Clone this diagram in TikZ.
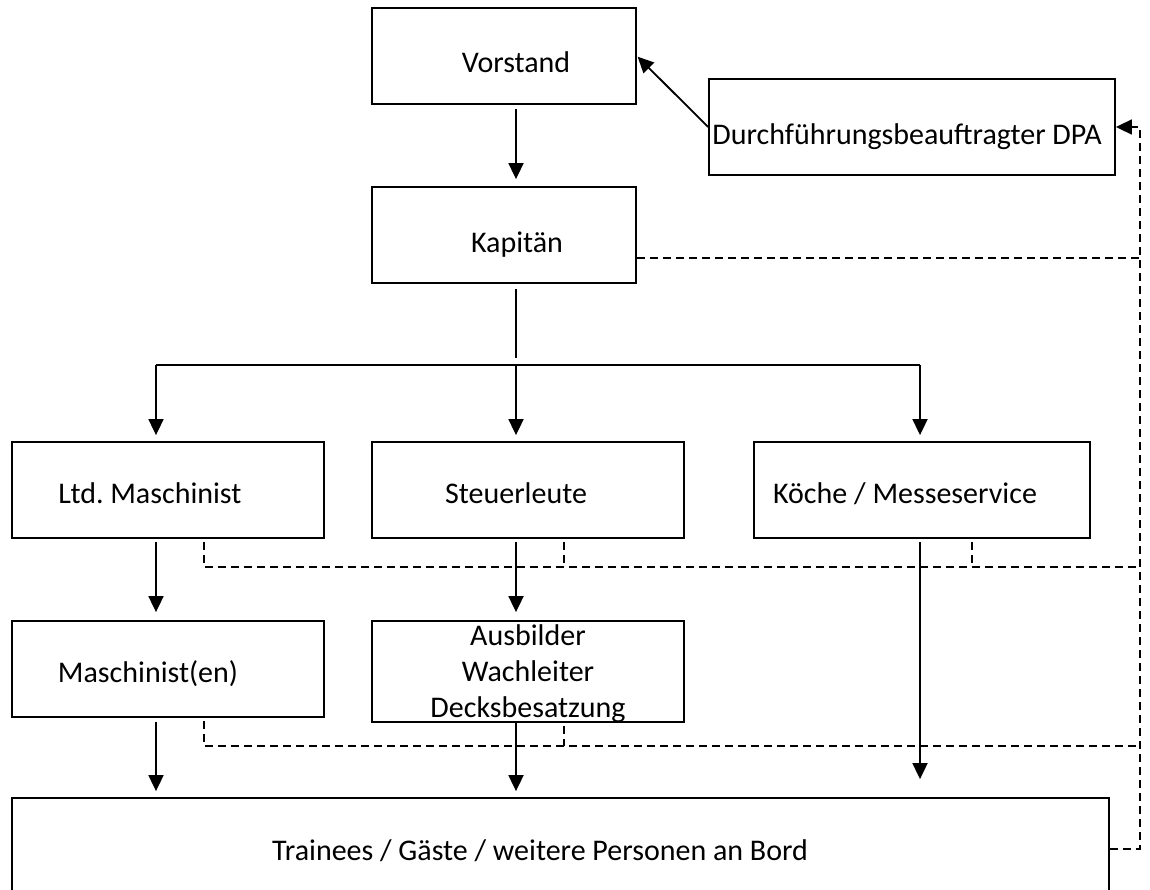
\documentclass[tikz,border=0pt]{standalone}
\usepackage{fontspec}
\setmainfont{Carlito}
\usepackage{tikz}
\usetikzlibrary{positioning}
\usetikzlibrary{arrows.meta}

\begin{document}
\begin{tikzpicture}[x=1pt, y=-1pt,
		orgbox/.style={rectangle, draw=black, line width=1.8pt, minimum width=312pt, minimum height=96pt, inner sep=0pt, text height=26pt, text depth=0pt, font=\fontsize{30}{36}\selectfont},
		tx/.style={execute at begin node={\hspace*{#1}}},
		arr/.style={-{Triangle[length=16pt, width=15pt]}, line width=1.8pt},
		link/.style={dash pattern=on 8pt off 5pt, line width=1.7pt}]

		\useasboundingbox (0,0) rectangle (1150,890);
		\clip (0,0) rectangle (1150,890);

		\node[orgbox, minimum width=264pt, text height=34pt, tx=24pt](vorstand) at (504,56){Vorstand};
		\node[orgbox, minimum width=264pt, text height=35pt, tx=26pt](kapitan) at (504,235){Kapitän};
		\node[orgbox, minimum width=406pt, text height=35pt, tx=-10pt](dpa) at (912,127){Durchführungsbeauftragter DPA};

		\node[orgbox, tx=-36pt](ltd) at (168,490){Ltd.\ Maschinist};
		\node[orgbox, tx=-24pt](steuer) at (528,490){Steuerleute};
		\node[orgbox, minimum width=336pt, tx=-34pt](koeche) at (922,490){Köche / Messeservice};

		\node[orgbox, tx=-40pt](masch) at (168,669){Maschinist(en)};
		\node[orgbox, minimum height=101pt, text height={}, align=center](ausb) at (528,671.5){Ausbilder\\Wachleiter\\Decksbesatzung};

		\node[orgbox, minimum width=1097pt, minimum height=102pt, text height=23pt, tx=-41pt](trainees) at (560.5,849){Trainees / Gäste / weitere Personen an Bord};

		\coordinate (fork) at (516,358);
		\coordinate (forkL) at (156,365);
		\coordinate (forkM) at (516,365);
		\coordinate (forkR) at (920,365);
		\coordinate (rail) at (1140,0);
		\coordinate (rowA) at (1140,567);
		\coordinate (rowB) at (1140,746);

		\draw [arr, shorten <=4pt, shorten >=7pt] ([xshift=12pt]vorstand.south) -- ([xshift=12pt]kapitan.north);
		\draw [arr, shorten >=1pt] (dpa.west) -- (vorstand.east);

		\draw [line width=1.8pt, shorten <=5pt] ([xshift=12pt]kapitan.south) -- (fork);
		\draw [line width=1.8pt] (forkL) -- (forkR);
		\draw [arr, shorten >=6pt] (forkL) -- (forkL |- ltd.north);
		\draw [arr, shorten >=6pt] (forkM) -- (forkM |- steuer.north);
		\draw [arr, shorten >=6pt] (forkR) -- (forkR |- koeche.north);

		\draw [arr, shorten <=3pt, shorten >=8pt] ([xshift=-12pt]ltd.south) -- ([xshift=-12pt]masch.north);
		\draw [arr, shorten <=3pt, shorten >=8pt] ([xshift=-12pt]steuer.south) -- ([xshift=-12pt]ausb.north);
		\draw [arr, shorten <=3pt, shorten >=18pt] ([xshift=-2pt]koeche.south) -- ([xshift=-2pt]koeche.south |- trainees.north);
		\draw [arr, shorten <=4pt, shorten >=6pt] ([xshift=-12pt]masch.south) -- ([xshift=-12pt]masch.south |- trainees.north);
		\draw [arr, shorten >=6pt] ([xshift=-12pt]ausb.south) -- ([xshift=-12pt]ausb.south |- trainees.north);

		\draw [link] ([yshift=-23pt]kapitan.east) -- ([yshift=-23pt]kapitan.east -| rail);
		\draw [link, arr] (trainees.east) -- (trainees.east -| rail) -- (dpa.east -| rail) -- (dpa.east);

		\draw [link, shorten <=3pt] ([xshift=36pt]ltd.south) |- (rowA);
		\draw [link, shorten <=3pt] ([xshift=36pt]steuer.south) -- ([xshift=36pt]steuer.south |- rowA);
		\draw [link, shorten <=3pt] ([xshift=50pt]koeche.south) -- ([xshift=50pt]koeche.south |- rowA);

		\draw [link, shorten <=3pt] ([xshift=36pt]masch.south) |- (rowB);
		\draw [link, shorten <=3pt] ([xshift=36pt]ausb.south) -- ([xshift=36pt]ausb.south |- rowB);

	\end{tikzpicture}
\end{document}
